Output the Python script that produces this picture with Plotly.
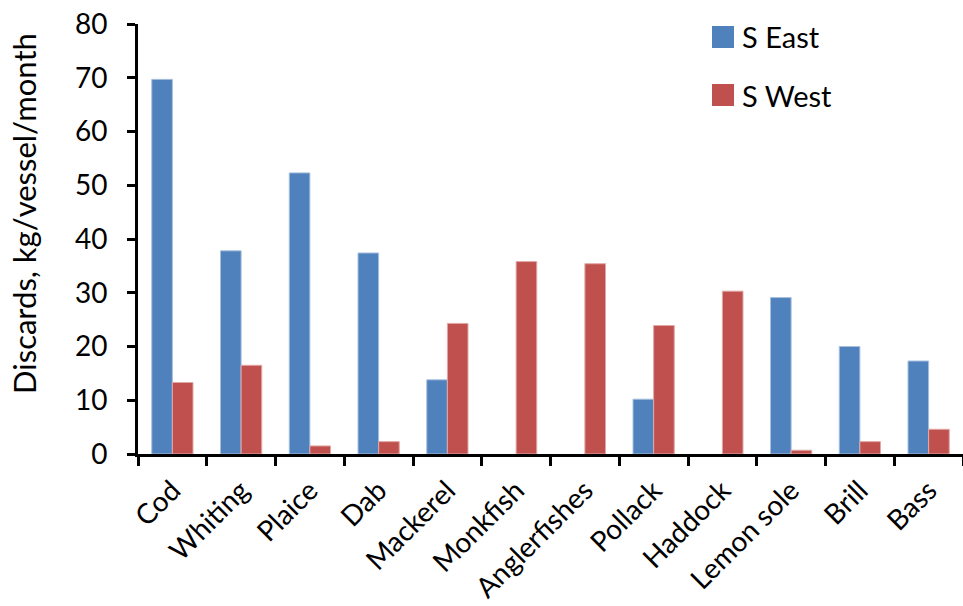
import plotly.graph_objects as go

# Discards per vessel per month by species and region (None = no discards recorded)
species = ["Cod", "Whiting", "Plaice", "Dab", "Mackerel", "Monkfish",
           "Anglerfishes", "Pollack", "Haddock", "Lemon sole", "Brill", "Bass"]
s_east = [69.7, 37.8, 52.3, 37.4, 13.8, None, None, 10.2, None, 29.1, 20.0, 17.3]
s_west = [13.3, 16.5, 1.5, 2.3, 24.3, 35.8, 35.4, 23.9, 30.3, 0.7, 2.3, 4.6]
series_names = ["S East", "S West"]
colors = ["#4F81BD", "#C0504D"]
edge_colors = ["#A7C0DE", "#E0A8A6"]
y_ticks = [0, 10, 20, 30, 40, 50, 60, 70, 80]
y_title = "Discards, kg/vessel/month"

FONT = "Lato"
W, H = 963, 606
ML, MR, MT, MB = 138, 0, 24, 152

fig = go.Figure()
for name, vals, col, edge in zip(series_names, [s_east, s_west], colors, edge_colors):
    fig.add_trace(go.Bar(
        x=species, y=vals, name=name, showlegend=False,
        marker=dict(color=col, line=dict(color=edge, width=1)),
    ))

# Pixel -> paper coordinate helpers for the plot area
plot_w = W - ML - MR
plot_h = H - MT - MB

def px_x(px):
    return (px - ML) / plot_w

def px_y(py):
    return (H - MB - py) / plot_h

# Legend drawn as squares + labels, top right of the plot area
legend_rows = [37, 95]
for name, col, cy in zip(series_names, colors, legend_rows):
    fig.add_shape(type="rect", xref="paper", yref="paper",
                  x0=px_x(712), x1=px_x(734), y0=px_y(cy + 11), y1=px_y(cy - 11),
                  fillcolor=col, line=dict(width=0))
    fig.add_annotation(xref="paper", yref="paper", x=px_x(740), y=px_y(cy),
                       xanchor="left", yanchor="middle", showarrow=False,
                       text=name, font=dict(family=FONT, size=29, color="black"))

# Vertical axis title
fig.add_annotation(xref="paper", yref="paper", x=px_x(24), y=px_y(214),
                   xanchor="center", yanchor="middle", showarrow=False,
                   textangle=-90, text=y_title,
                   font=dict(family=FONT, size=31, color="black"))

fig.update_layout(
    width=W, height=H,
    margin=dict(l=ML, r=MR, t=MT, b=MB, pad=0),
    plot_bgcolor="white", paper_bgcolor="white",
    barmode="group", bargap=0.4, bargroupgap=0,
    font=dict(family=FONT, color="black"),
)
fig.update_xaxes(
    range=[-0.5, len(species) - 0.5],
    showline=True, linecolor="black", linewidth=3,
    ticks="outside", tickson="boundaries", ticklen=9, tickwidth=3, tickcolor="black",
    tickangle=-45, ticklabelstandoff=6,
    tickfont=dict(family=FONT, size=28, color="black"),
    showgrid=False, zeroline=False,
)
fig.update_yaxes(
    range=[0, 80], tickvals=y_ticks,
    showline=True, linecolor="black", linewidth=3,
    ticks="outside", ticklen=8, tickwidth=3, tickcolor="black",
    ticklabelstandoff=14,
    tickfont=dict(family=FONT, size=28, color="black"),
    showgrid=False, zeroline=False,
)

fig.write_html("out.html")
